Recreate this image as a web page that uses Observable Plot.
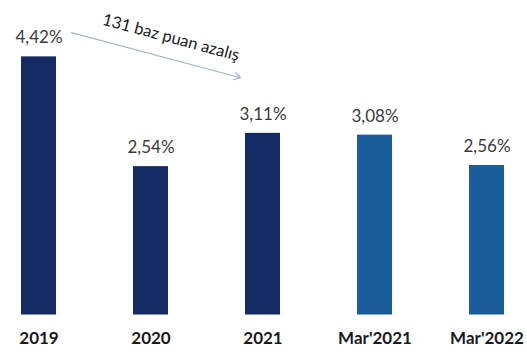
<!DOCTYPE html>
<html>
<head>
<meta charset="utf-8">
<script src="https://cdn.jsdelivr.net/npm/d3@7"></script>
<script src="https://cdn.jsdelivr.net/npm/@observablehq/plot@0.6"></script>
<style>
  html, body { margin: 0; padding: 0; background: #fff; }
  svg { display: block; }
</style>
</head>
<body>
<div id="chart"></div>
<script>
const categories = ["2019", "2020", "2021", "Mar'2021", "Mar'2022"];
const values = [4.42, 2.54, 3.11, 3.08, 2.56];
const labels = ["4,42%", "2,54%", "3,11%", "3,08%", "2,56%"];
const barColors = ["#142a62", "#142a62", "#142a62", "#1b5d9c", "#1b5d9c"];

// annotation: arrow from 2019 to 2021
const arrowFrom = ["2019"];
const arrowTo = ["2021"];
const arrowY1 = [4.985];
const arrowY2 = [3.96];
const annotationText = ["131 baz puan azalış"];
const annotationY = [4.75];

const data = categories.map((c, i) => ({cat: c, value: values[i], label: labels[i], color: barColors[i]}));
const arrowData = arrowFrom.map((a, i) => ({x1: a, x2: arrowTo[i], y1: arrowY1[i], y2: arrowY2[i]}));
const noteData = annotationText.map((t, i) => ({text: t, x: "2020", y: annotationY[i]}));

const chart = Plot.plot({
  width: 527,
  height: 354,
  marginLeft: 0,
  marginRight: 3,
  marginTop: 22.5,
  marginBottom: 39.5,
  style: {background: "#fff", fontFamily: "Lato, sans-serif"},
  x: {domain: categories, paddingInner: 0.69, paddingOuter: 0.179, label: null},
  y: {domain: [0, 5], axis: null},
  color: {type: "identity"},
  marks: [
    Plot.axisX({tickSize: 0, tickPadding: 17, fontSize: 17, fontWeight: "bold", fill: "#1a1a1a", label: null}),
    Plot.barY(data, {x: "cat", y: "value", fill: "color"}),
    Plot.text(data, {x: "cat", y: "value", text: "label", dy: -19, fontSize: 17, fill: "#3a3a3a"}),
    Plot.arrow(arrowData, {x1: "x1", y1: "y1", x2: "x2", y2: "y2", stroke: "#9fb8cc", strokeWidth: 1.2, headLength: 9, insetStart: 33.6, insetEnd: 23.3, bend: 0}),
    Plot.text(noteData, {x: "x", y: "y", text: "text", dx: 20, rotate: 15, fontSize: 16.5, fill: "#1a1a1a"})
  ]
});
document.getElementById("chart").appendChild(chart);
</script>
</body>
</html>
